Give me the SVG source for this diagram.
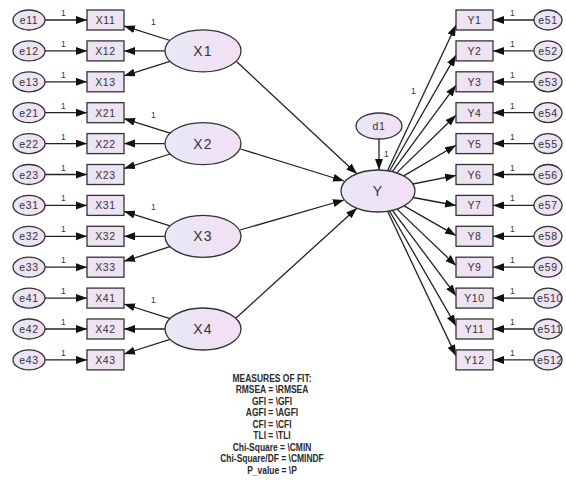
<svg xmlns="http://www.w3.org/2000/svg" width="566" height="480" viewBox="0 0 566 480">
<style>
.ell{fill:url(#g);stroke:#333;stroke-width:1.3}
.box{fill:#eee3f3;stroke:#333;stroke-width:1.3}
.t{font-family:"Liberation Sans",Arial,sans-serif;fill:#333;text-anchor:middle}
.s{font-size:10.5px;letter-spacing:0.6px}
.l{font-size:14px;letter-spacing:1.2px}
.o{font-size:8.5px;font-family:"Liberation Sans",Arial,sans-serif;fill:#333}
.c path{stroke:#222;stroke-width:1.3;fill:none;marker-end:url(#a)}
.m{font-family:"Liberation Sans",Arial,sans-serif;font-size:11px;font-weight:bold;fill:#2a2a2a;text-anchor:middle}
</style>
<defs>
<linearGradient id="g" x1="0" y1="0" x2="1" y2="0">
<stop offset="0" stop-color="#e8e8f7"/>
<stop offset="1" stop-color="#f3dff3"/>
</linearGradient>
<marker id="a" markerUnits="userSpaceOnUse" markerWidth="12" markerHeight="9" refX="11" refY="4" orient="auto">
<path d="M0,0 L11,4 L0,8 z" fill="#111"/>
</marker>
</defs>
<rect width="566" height="480" fill="#fff"/>

<g id="connectors" class="c">
<path d="M45,20 L87,20"/><path d="M45,50.9 L87,50.9"/><path d="M45,81.8 L87,81.8"/>
<path d="M45,112.7 L87,112.7"/><path d="M45,143.6 L87,143.6"/><path d="M45,174.5 L87,174.5"/>
<path d="M45,205.4 L87,205.4"/><path d="M45,236.3 L87,236.3"/><path d="M45,267.2 L87,267.2"/>
<path d="M45,298.1 L87,298.1"/><path d="M45,329 L87,329"/><path d="M45,359.9 L87,359.9"/>
<path d="M170,40.5 L124,25.9"/><path d="M165,50.9 L124,50.9"/><path d="M170,61.3 L124,75.9"/>
<path d="M170,133.2 L124,118.6"/><path d="M165,143.6 L124,143.6"/><path d="M170,154 L124,168.6"/>
<path d="M170,225.9 L124,211.3"/><path d="M165,236.3 L124,236.3"/><path d="M170,246.7 L124,261.3"/>
<path d="M170,318.6 L124,304"/><path d="M165,329 L124,329"/><path d="M170,339.4 L124,354"/>
<path d="M236.5,61.5 L357,174"/><path d="M240.5,149 L344,181"/><path d="M240,230 L344,200"/><path d="M236,318 L357,208"/>
<path d="M379,139 L379,170"/>
<path d="M387.5,170.7 L456,25"/><path d="M389.5,171 L456,55.1"/><path d="M392.3,171.6 L456,85.2"/>
<path d="M396.7,172.9 L456,115.2"/><path d="M403.7,175.9 L456,145.3"/><path d="M412.9,184 L456,175.4"/>
<path d="M413.2,197.5 L456,205.5"/><path d="M404.1,205.9 L456,235.6"/><path d="M396.9,209.1 L456,265.6"/>
<path d="M392.4,210.3 L456,295.7"/><path d="M389.5,211 L456,325.8"/><path d="M387.6,211.3 L456,355.9"/>
<path d="M534,20 L493,20"/><path d="M534,50.9 L493,50.9"/><path d="M534,81.8 L493,81.8"/>
<path d="M534,112.7 L493,112.7"/><path d="M534,143.6 L493,143.6"/><path d="M534,174.5 L493,174.5"/>
<path d="M534,205.4 L493,205.4"/><path d="M534,236.3 L493,236.3"/><path d="M534,267.2 L493,267.2"/>
<path d="M534,298.1 L493,298.1"/><path d="M534,329 L493,329"/><path d="M534,359.9 L493,359.9"/>
</g>

<g id="weights">
<text class="o" x="61" y="16">1</text><text class="o" x="61" y="46.9">1</text><text class="o" x="61" y="77.8">1</text>
<text class="o" x="61" y="108.7">1</text><text class="o" x="61" y="139.6">1</text><text class="o" x="61" y="170.5">1</text>
<text class="o" x="61" y="201.4">1</text><text class="o" x="61" y="232.3">1</text><text class="o" x="61" y="263.2">1</text>
<text class="o" x="61" y="294.1">1</text><text class="o" x="61" y="325">1</text><text class="o" x="61" y="355.9">1</text>
<text class="o" x="151" y="25">1</text><text class="o" x="151" y="117.7">1</text><text class="o" x="151" y="210.4">1</text><text class="o" x="151" y="303">1</text>
<text class="o" x="384" y="157">1</text>
<text class="o" x="411" y="94">1</text>
<text class="o" x="510" y="16">1</text><text class="o" x="510" y="46.9">1</text><text class="o" x="510" y="77.8">1</text>
<text class="o" x="510" y="108.7">1</text><text class="o" x="510" y="139.6">1</text><text class="o" x="510" y="170.5">1</text>
<text class="o" x="510" y="201.4">1</text><text class="o" x="510" y="232.3">1</text><text class="o" x="510" y="263.2">1</text>
<text class="o" x="510" y="294.1">1</text><text class="o" x="510" y="325">1</text><text class="o" x="510" y="355.9">1</text>
</g>

<g id="e11"><ellipse class="ell" cx="29" cy="20" rx="16" ry="10"/><text class="t s" x="29" y="24">e11</text></g>
<g id="e12"><ellipse class="ell" cx="29" cy="50.9" rx="16" ry="10"/><text class="t s" x="29" y="54.9">e12</text></g>
<g id="e13"><ellipse class="ell" cx="29" cy="81.8" rx="16" ry="10"/><text class="t s" x="29" y="85.8">e13</text></g>
<g id="e21"><ellipse class="ell" cx="29" cy="112.7" rx="16" ry="10"/><text class="t s" x="29" y="116.7">e21</text></g>
<g id="e22"><ellipse class="ell" cx="29" cy="143.6" rx="16" ry="10"/><text class="t s" x="29" y="147.6">e22</text></g>
<g id="e23"><ellipse class="ell" cx="29" cy="174.5" rx="16" ry="10"/><text class="t s" x="29" y="178.5">e23</text></g>
<g id="e31"><ellipse class="ell" cx="29" cy="205.4" rx="16" ry="10"/><text class="t s" x="29" y="209.4">e31</text></g>
<g id="e32"><ellipse class="ell" cx="29" cy="236.3" rx="16" ry="10"/><text class="t s" x="29" y="240.3">e32</text></g>
<g id="e33"><ellipse class="ell" cx="29" cy="267.2" rx="16" ry="10"/><text class="t s" x="29" y="271.2">e33</text></g>
<g id="e41"><ellipse class="ell" cx="29" cy="298.1" rx="16" ry="10"/><text class="t s" x="29" y="302.1">e41</text></g>
<g id="e42"><ellipse class="ell" cx="29" cy="329" rx="16" ry="10"/><text class="t s" x="29" y="333">e42</text></g>
<g id="e43"><ellipse class="ell" cx="29" cy="359.9" rx="16" ry="10"/><text class="t s" x="29" y="363.9">e43</text></g>

<g id="X11"><rect class="box" x="87" y="10" width="37" height="20"/><text class="t s" x="105.5" y="24">X11</text></g>
<g id="X12"><rect class="box" x="87" y="40.9" width="37" height="20"/><text class="t s" x="105.5" y="54.9">X12</text></g>
<g id="X13"><rect class="box" x="87" y="71.8" width="37" height="20"/><text class="t s" x="105.5" y="85.8">X13</text></g>
<g id="X21"><rect class="box" x="87" y="102.7" width="37" height="20"/><text class="t s" x="105.5" y="116.7">X21</text></g>
<g id="X22"><rect class="box" x="87" y="133.6" width="37" height="20"/><text class="t s" x="105.5" y="147.6">X22</text></g>
<g id="X23"><rect class="box" x="87" y="164.5" width="37" height="20"/><text class="t s" x="105.5" y="178.5">X23</text></g>
<g id="X31"><rect class="box" x="87" y="195.4" width="37" height="20"/><text class="t s" x="105.5" y="209.4">X31</text></g>
<g id="X32"><rect class="box" x="87" y="226.3" width="37" height="20"/><text class="t s" x="105.5" y="240.3">X32</text></g>
<g id="X33"><rect class="box" x="87" y="257.2" width="37" height="20"/><text class="t s" x="105.5" y="271.2">X33</text></g>
<g id="X41"><rect class="box" x="87" y="288.1" width="37" height="20"/><text class="t s" x="105.5" y="302.1">X41</text></g>
<g id="X42"><rect class="box" x="87" y="319" width="37" height="20"/><text class="t s" x="105.5" y="333">X42</text></g>
<g id="X43"><rect class="box" x="87" y="349.9" width="37" height="20"/><text class="t s" x="105.5" y="363.9">X43</text></g>

<g id="X1"><ellipse class="ell" cx="203" cy="50.9" rx="38" ry="21"/><text class="t l" x="203" y="56">X1</text></g>
<g id="X2"><ellipse class="ell" cx="203" cy="143.6" rx="38" ry="21"/><text class="t l" x="203" y="148.7">X2</text></g>
<g id="X3"><ellipse class="ell" cx="203" cy="236.3" rx="38" ry="21"/><text class="t l" x="203" y="241.4">X3</text></g>
<g id="X4"><ellipse class="ell" cx="203" cy="329" rx="38" ry="21"/><text class="t l" x="203" y="334.1">X4</text></g>

<g id="d1"><ellipse class="ell" cx="379" cy="126" rx="23" ry="13"/><text class="t s" x="379" y="130">d1</text></g>
<g id="Y"><ellipse class="ell" cx="378" cy="191" rx="37" ry="21"/><text class="t l" x="378" y="196">Y</text></g>

<g id="Y1"><rect class="box" x="456" y="10" width="37" height="20"/><text class="t s" x="474.5" y="24">Y1</text></g>
<g id="Y2"><rect class="box" x="456" y="40.9" width="37" height="20"/><text class="t s" x="474.5" y="54.9">Y2</text></g>
<g id="Y3"><rect class="box" x="456" y="71.8" width="37" height="20"/><text class="t s" x="474.5" y="85.8">Y3</text></g>
<g id="Y4"><rect class="box" x="456" y="102.7" width="37" height="20"/><text class="t s" x="474.5" y="116.7">Y4</text></g>
<g id="Y5"><rect class="box" x="456" y="133.6" width="37" height="20"/><text class="t s" x="474.5" y="147.6">Y5</text></g>
<g id="Y6"><rect class="box" x="456" y="164.5" width="37" height="20"/><text class="t s" x="474.5" y="178.5">Y6</text></g>
<g id="Y7"><rect class="box" x="456" y="195.4" width="37" height="20"/><text class="t s" x="474.5" y="209.4">Y7</text></g>
<g id="Y8"><rect class="box" x="456" y="226.3" width="37" height="20"/><text class="t s" x="474.5" y="240.3">Y8</text></g>
<g id="Y9"><rect class="box" x="456" y="257.2" width="37" height="20"/><text class="t s" x="474.5" y="271.2">Y9</text></g>
<g id="Y10"><rect class="box" x="456" y="288.1" width="37" height="20"/><text class="t s" x="474.5" y="302.1">Y10</text></g>
<g id="Y11"><rect class="box" x="456" y="319" width="37" height="20"/><text class="t s" x="474.5" y="333">Y11</text></g>
<g id="Y12"><rect class="box" x="456" y="349.9" width="37" height="20"/><text class="t s" x="474.5" y="363.9">Y12</text></g>

<g id="e51"><ellipse class="ell" cx="548" cy="20" rx="14" ry="10"/><text class="t s" x="548" y="24">e51</text></g>
<g id="e52"><ellipse class="ell" cx="548" cy="50.9" rx="14" ry="10"/><text class="t s" x="548" y="54.9">e52</text></g>
<g id="e53"><ellipse class="ell" cx="548" cy="81.8" rx="14" ry="10"/><text class="t s" x="548" y="85.8">e53</text></g>
<g id="e54"><ellipse class="ell" cx="548" cy="112.7" rx="14" ry="10"/><text class="t s" x="548" y="116.7">e54</text></g>
<g id="e55"><ellipse class="ell" cx="548" cy="143.6" rx="14" ry="10"/><text class="t s" x="548" y="147.6">e55</text></g>
<g id="e56"><ellipse class="ell" cx="548" cy="174.5" rx="14" ry="10"/><text class="t s" x="548" y="178.5">e56</text></g>
<g id="e57"><ellipse class="ell" cx="548" cy="205.4" rx="14" ry="10"/><text class="t s" x="548" y="209.4">e57</text></g>
<g id="e58"><ellipse class="ell" cx="548" cy="236.3" rx="14" ry="10"/><text class="t s" x="548" y="240.3">e58</text></g>
<g id="e59"><ellipse class="ell" cx="548" cy="267.2" rx="14" ry="10"/><text class="t s" x="548" y="271.2">e59</text></g>
<g id="e510"><ellipse class="ell" cx="548" cy="298.1" rx="14" ry="10"/><text class="t s" x="550" y="302.1">e510</text></g>
<g id="e511"><ellipse class="ell" cx="548" cy="329" rx="14" ry="10"/><text class="t s" x="550" y="333">e511</text></g>
<g id="e512"><ellipse class="ell" cx="548" cy="359.9" rx="14" ry="10"/><text class="t s" x="550" y="363.9">e512</text></g>

<g id="fit" transform="translate(272,0) scale(0.77,1)">
<text class="m" x="0" y="382">MEASURES OF FIT:</text>
<text class="m" x="0" y="393.5">RMSEA = \RMSEA</text>
<text class="m" x="0" y="405">GFI = \GFI</text>
<text class="m" x="0" y="416.5">AGFI = \AGFI</text>
<text class="m" x="0" y="428">CFI = \CFI</text>
<text class="m" x="0" y="439.5">TLI = \TLI</text>
<text class="m" x="0" y="451">Chi-Square = \CMIN</text>
<text class="m" x="0" y="462.5">Chi-Square/DF = \CMINDF</text>
<text class="m" x="0" y="474">P_value = \P</text>
</g>
</svg>
